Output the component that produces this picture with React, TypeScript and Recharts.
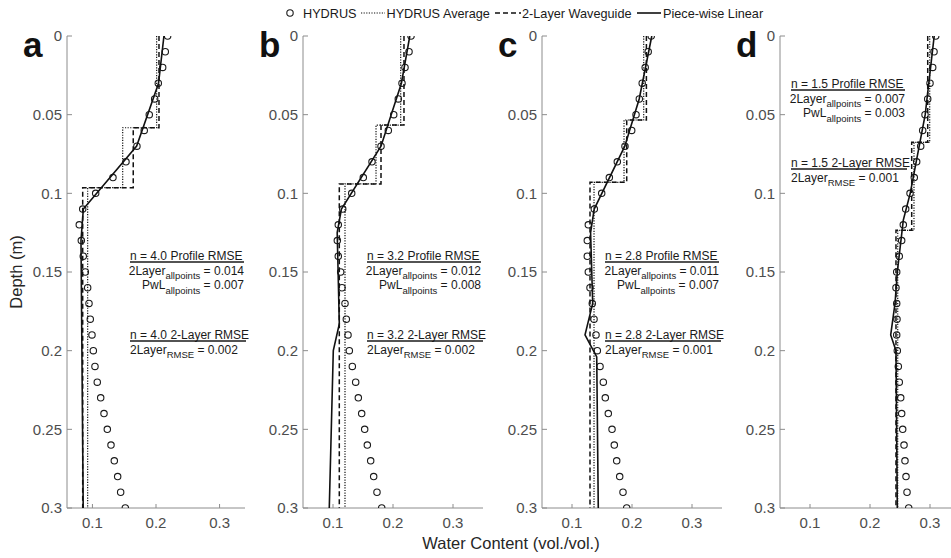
import React from 'react';
import { ScatterChart, Scatter, XAxis, YAxis } from 'recharts';

const depths = [0, 0.01, 0.02, 0.03, 0.04, 0.05, 0.06, 0.07, 0.08, 0.09, 0.1, 0.11, 0.12, 0.13, 0.14, 0.15, 0.16, 0.17, 0.18, 0.19, 0.2, 0.21, 0.22, 0.23, 0.24, 0.25, 0.26, 0.27, 0.28, 0.29, 0.3];
const depthTicks = [0, 0.05, 0.1, 0.15, 0.2, 0.25, 0.3];
const wcTicks = [0.1, 0.2, 0.3];

// HYDRUS water content at each depth
const hydrusA = [0.2183, 0.2146, 0.2105, 0.2036, 0.1979, 0.1894, 0.1815, 0.170, 0.1528, 0.1323, 0.1051, 0.0847, 0.0793, 0.0825, 0.0856, 0.0888, 0.0925, 0.0946, 0.0966, 0.0993, 0.1014, 0.104, 0.1076, 0.113, 0.1182, 0.1234, 0.1292, 0.1344, 0.1397, 0.1444, 0.1517];
const hydrusB = [0.230, 0.2267, 0.220, 0.215, 0.2088, 0.2012, 0.1922, 0.180, 0.165, 0.1505, 0.1312, 0.1162, 0.1088, 0.1072, 0.1088, 0.1128, 0.115, 0.12, 0.1222, 0.125, 0.1272, 0.1322, 0.1378, 0.1422, 0.1478, 0.1528, 0.1572, 0.1628, 0.1678, 0.1733, 0.1812];
const hydrusC = [0.232, 0.227, 0.222, 0.217, 0.2122, 0.2067, 0.1995, 0.1883, 0.1755, 0.1622, 0.1495, 0.1372, 0.1272, 0.1255, 0.1255, 0.1272, 0.13, 0.1338, 0.1367, 0.14, 0.1422, 0.1467, 0.1522, 0.1555, 0.1605, 0.1667, 0.1705, 0.1745, 0.1795, 0.185, 0.1912];
const hydrusD = [0.3095, 0.3067, 0.3045, 0.30, 0.2962, 0.2917, 0.2878, 0.2845, 0.2778, 0.2738, 0.2667, 0.2595, 0.2555, 0.2528, 0.2488, 0.2445, 0.2433, 0.2445, 0.245, 0.2445, 0.2455, 0.2472, 0.2488, 0.2512, 0.2528, 0.2545, 0.2567, 0.2583, 0.26, 0.2617, 0.2645];

// layer boundaries (depth) and layer values for the step profiles
const boundsA = [0.0583, 0.0964];
const avgA = [0.201, 0.1476, 0.0925];
const waveA = [0.2047, 0.1642, 0.0847];
const boundsB = [0.0566, 0.094];
const avgB = [0.2128, 0.1717, 0.12];
const waveB = [0.2183, 0.18, 0.1105];
const boundsC = [0.0534, 0.093];
const avgC = [0.2195, 0.1867, 0.1367];
const waveC = [0.224, 0.1912, 0.13];
const boundsD = [0.0676, 0.1235];
const avgD = [0.2995, 0.2733, 0.2462];
const waveD = [0.2962, 0.2695, 0.2433];

// piece-wise linear fits
const pwlDepthA = [0, 0.03, 0.07, 0.11, 0.13, 0.3];
const pwlA = [0.2125, 0.204, 0.1696, 0.0857, 0.082, 0.0855];
const pwlDepthB = [0, 0.03, 0.07, 0.11, 0.125, 0.183, 0.2, 0.3];
const pwlB = [0.228, 0.214, 0.18, 0.114, 0.107, 0.1105, 0.1005, 0.0938];
const pwlDepthC = [0, 0.04, 0.07, 0.11, 0.125, 0.17, 0.19, 0.204, 0.3];
const pwlC = [0.233, 0.212, 0.188, 0.137, 0.131, 0.1345, 0.1217, 0.1412, 0.1438];
const pwlDepthD = [0, 0.05, 0.1, 0.117, 0.15, 0.17, 0.19, 0.2, 0.3];
const pwlD = [0.307, 0.292, 0.267, 0.2555, 0.2455, 0.2417, 0.2345, 0.2433, 0.2455];

const nValues = ['4.0', '3.2', '2.8', '1.5'];
const rmse2LayerAll = ['0.014', '0.012', '0.011', '0.007'];
const rmsePwlAll = ['0.007', '0.008', '0.007', '0.003'];
const rmse2Layer = ['0.002', '0.002', '0.001', '0.001'];

const FONT = 'Liberation Sans, Arial, Helvetica, sans-serif';
const PLOT_TOP = 36;
const PLOT_H = 472;
const Y_AXIS_W = 50;
const DOTTED = { stroke: '#111', strokeWidth: 1.2, strokeDasharray: '1.2 1.4' };

const stepPoints = (bounds: number[], vals: number[]) => {
  const pts: { d: number; v: number }[] = [];
  const edges = [0, ...bounds, 0.3];
  vals.forEach((v, i) => {
    pts.push({ d: edges[i], v });
    pts.push({ d: edges[i + 1], v });
  });
  return pts;
};

const panels = [
  { letter: 'a', axisX: 67, domain: [0.06, 0.34], width: 178, hydrus: hydrusA, bounds: boundsA, avg: avgA, wave: waveA, pwlDepth: pwlDepthA, pwl: pwlA, textRight: 244, textTop: 260 },
  { letter: 'b', axisX: 303, domain: [0.05, 0.35], width: 180, hydrus: hydrusB, bounds: boundsB, avg: avgB, wave: waveB, pwlDepth: pwlDepthB, pwl: pwlB, textRight: 481, textTop: 260 },
  { letter: 'c', axisX: 542, domain: [0.05, 0.35], width: 180, hydrus: hydrusC, bounds: boundsC, avg: avgC, wave: waveC, pwlDepth: pwlDepthC, pwl: pwlC, textRight: 719, textTop: 260 },
  { letter: 'd', axisX: 780, domain: [0.05, 0.35], width: 180, hydrus: hydrusD, bounds: boundsD, avg: avgD, wave: waveD, pwlDepth: pwlDepthD, pwl: pwlD, textRight: 905, textTop: 88 },
];

const circleShape = (p: any) => (
  <circle cx={p.cx} cy={p.cy} r={3.2} fill="none" stroke="#1a1a1a" strokeWidth={1.1} />
);
const noShape = () => <g />;

const axisTick = { fill: '#4d4d4d', fontSize: 15, fontFamily: FONT };

const Panel = ({ p }: { p: (typeof panels)[number] }) => {
  const hyd = depths.map((d, i) => ({ d, v: p.hydrus[i] }));
  const avg = stepPoints(p.bounds, p.avg);
  const wave = stepPoints(p.bounds, p.wave);
  const pwl = p.pwlDepth.map((d, i) => ({ d, v: p.pwl[i] }));
  return (
    <div style={{ position: 'absolute', left: p.axisX - Y_AXIS_W, top: 0 }}>
      <ScatterChart
        width={Y_AXIS_W + p.width + 10}
        height={PLOT_TOP + PLOT_H + 40}
        margin={{ top: PLOT_TOP, right: 10, bottom: 0, left: 0 }}
      >
        <XAxis
          type="number"
          dataKey="v"
          domain={p.domain}
          ticks={wcTicks}
          allowDataOverflow
          height={40}
          stroke="#8c8c8c"
          tickSize={-4}
          tickMargin={13}
          tick={axisTick}
        />
        <YAxis
          type="number"
          dataKey="d"
          domain={[0, 0.3]}
          reversed
          ticks={depthTicks}
          allowDataOverflow
          width={Y_AXIS_W}
          stroke="#8c8c8c"
          tickSize={-5}
          tickMargin={10}
          tick={axisTick}
        />
        <Scatter data={hyd} shape={circleShape} isAnimationActive={false} />
        <Scatter data={avg} shape={noShape} line={DOTTED} isAnimationActive={false} />
        <Scatter data={wave} shape={noShape} line={{ stroke: '#111', strokeWidth: 1.5, strokeDasharray: '5 3' }} isAnimationActive={false} />
        <Scatter data={pwl} shape={noShape} line={{ stroke: '#111', strokeWidth: 1.6 }} isAnimationActive={false} />
      </ScatterChart>
    </div>
  );
};

const Annotation = ({ i }: { i: number }) => {
  const p = panels[i];
  const right = p.textRight;
  const left = right - 114;
  const y = p.textTop;
  const fs = 12;
  const sub = 9.5;
  return (
    <g fontFamily={FONT} fontSize={fs} fill="#1a1a1a">
      <text x={left} y={y}>n = {nValues[i]} Profile RMSE</text>
      <line x1={left} x2={right} y1={y + 2} y2={y + 2} stroke="#1a1a1a" strokeWidth={1.4} />
      <text x={right} y={y + 14.5} textAnchor="end">
        2Layer<tspan fontSize={sub} dy={4.5}>allpoints</tspan>
        <tspan dy={-4.5}> = {rmse2LayerAll[i]}</tspan>
      </text>
      <text x={right} y={y + 29} textAnchor="end">
        PwL<tspan fontSize={sub} dy={4.5}>allpoints</tspan>
        <tspan dy={-4.5}> = {rmsePwlAll[i]}</tspan>
      </text>
      <text x={left} y={y + 79}>n = {nValues[i]} 2-Layer RMSE</text>
      <line x1={left} x2={right + 2} y1={y + 81} y2={y + 81} stroke="#1a1a1a" strokeWidth={1.4} />
      <text x={left} y={y + 93.5}>
        2Layer<tspan fontSize={sub} dy={4.5}>RMSE</tspan>
        <tspan dy={-4.5}> = {rmse2Layer[i]}</tspan>
      </text>
    </g>
  );
};

const Legend = () => {
  const y = 13;
  return (
    <g fontFamily={FONT} fontSize={12.7} fill="#1a1a1a">
      <circle cx={290} cy={y} r={3.2} fill="none" stroke="#1a1a1a" strokeWidth={1.1} />
      <text x={303} y={y + 4.5}>HYDRUS</text>
      <line x1={361} x2={385} y1={y} y2={y} {...DOTTED} />
      <text x={386.5} y={y + 4.5}>HYDRUS Average</text>
      <line x1={495} x2={521} y1={y} y2={y} stroke="#111" strokeWidth={1.5} strokeDasharray="5 3" />
      <text x={522} y={y + 4.5}>2-Layer Waveguide</text>
      <line x1={637} x2={661} y1={y} y2={y} stroke="#111" strokeWidth={1.6} />
      <text x={663} y={y + 4.5}>Piece-wise Linear</text>
    </g>
  );
};

export default function App() {
  return (
    <div style={{ position: 'fixed', left: 0, top: 0, width: 951, height: 558, overflow: 'hidden', background: '#fff' }}>
      {panels.map((p) => (
        <Panel key={p.letter} p={p} />
      ))}
      <svg width={951} height={558} style={{ position: 'absolute', left: 0, top: 0, pointerEvents: 'none' }}>
        <Legend />
        {panels.map((p, i) => (
          <g key={p.letter}>
            <text x={p.axisX - 44} y={57} fontFamily={FONT} fontSize={35} fontWeight="bold" fill="#111">
              {p.letter}
            </text>
            <Annotation i={i} />
          </g>
        ))}
        <text x={18} y={272} transform="rotate(-90 18 272)" textAnchor="middle" dominantBaseline="middle" fontFamily={FONT} fontSize={16.5} fill="#262626">
          Depth (m)
        </text>
        <text x={511} y={549} textAnchor="middle" fontFamily={FONT} fontSize={16.5} fill="#262626">
          Water Content (vol./vol.)
        </text>
      </svg>
    </div>
  );
}
